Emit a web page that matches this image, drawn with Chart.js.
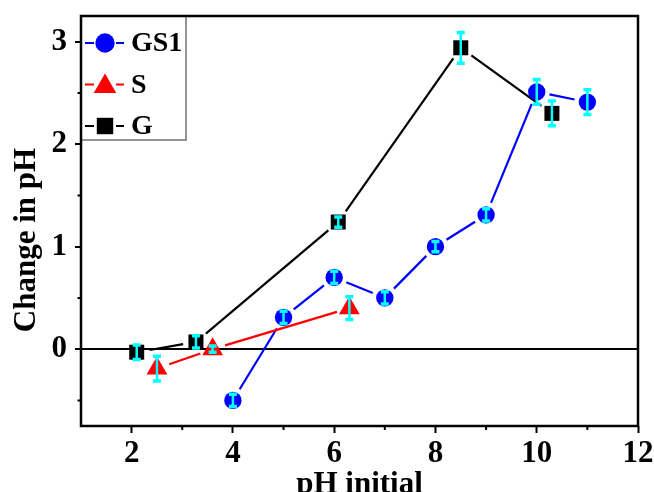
<!DOCTYPE html>
<html>
<head>
<meta charset="utf-8">
<script src="https://cdn.jsdelivr.net/npm/chart.js@4/dist/chart.umd.min.js"></script>
<style>
  html, body { margin: 0; padding: 0; background: #fff; }
</style>
</head>
<body>
<canvas id="chart" width="654" height="492"></canvas>
<script>
// pH change vs initial pH for the three samples
const gs1X   = [4, 5, 6, 7, 8, 9, 10, 11];
const gs1Y   = [-0.5, 0.31, 0.7, 0.5, 1.0, 1.31, 2.51, 2.41];
const gs1Err = [0.06, 0.06, 0.06, 0.06, 0.05, 0.06, 0.12, 0.12];

const sX   = [2.5, 3.6, 6.3];
const sY   = [-0.19, 0.0, 0.4];
const sErr = [0.12, 0.03, 0.11];

const gX   = [2.1, 3.27, 6.08, 8.5, 10.3];
const gY   = [-0.03, 0.07, 1.24, 2.94, 2.3];
const gErr = [0.07, 0.06, 0.05, 0.15, 0.12];

const xTicks = [2, 4, 6, 8, 10, 12];
const xMinor = [3, 5, 7, 9, 11];
const yTicks = [0, 1, 2, 3];
const yMinor = [-0.5, 0.5, 1.5, 2.5];

const FONT = '"Liberation Serif", "Times New Roman", serif';
const GAP = 13;

const pts = (xs, ys) => xs.map((x, i) => ({ x, y: ys[i] }));

// connecting lines, trimmed so they stop short of each marker
const gapLines = {
  id: 'gapLines',
  beforeDatasetsDraw(chart) {
    const ctx = chart.ctx;
    chart.data.datasets.forEach((ds, di) => {
      const els = chart.getDatasetMeta(di).data;
      ctx.save();
      ctx.strokeStyle = ds.borderColor;
      ctx.lineWidth = 2.2;
      for (let i = 0; i < els.length - 1; i++) {
        const a = els[i], b = els[i + 1];
        const dx = b.x - a.x, dy = b.y - a.y;
        const len = Math.hypot(dx, dy);
        if (len <= 2 * GAP) continue;
        const ux = dx / len, uy = dy / len;
        ctx.beginPath();
        ctx.moveTo(a.x + ux * GAP, a.y + uy * GAP);
        ctx.lineTo(b.x - ux * GAP, b.y - uy * GAP);
        ctx.stroke();
      }
      ctx.restore();
    });
  }
};

// cyan error bars on top of the markers
const errorBars = {
  id: 'errorBars',
  afterDatasetsDraw(chart) {
    const ctx = chart.ctx;
    const ys = chart.scales.y;
    chart.data.datasets.forEach((ds, di) => {
      const els = chart.getDatasetMeta(di).data;
      ctx.save();
      ctx.strokeStyle = '#00ffff';
      els.forEach((el, i) => {
        const v = ds.data[i].y, e = ds.errors[i];
        const top = ys.getPixelForValue(v + e);
        const bot = ys.getPixelForValue(v - e);
        ctx.lineWidth = 2.5;
        ctx.beginPath();
        ctx.moveTo(el.x, top);
        ctx.lineTo(el.x, bot);
        ctx.stroke();
        ctx.lineWidth = 3.5;
        ctx.beginPath();
        ctx.moveTo(el.x - 4, top); ctx.lineTo(el.x + 4, top);
        ctx.moveTo(el.x - 4, bot); ctx.lineTo(el.x + 4, bot);
        ctx.stroke();
      });
      ctx.restore();
    });
  }
};

function drawMarker(ctx, style, x, y, r, color) {
  ctx.fillStyle = color;
  ctx.beginPath();
  if (style === 'circle') {
    ctx.arc(x, y, r, 0, Math.PI * 2);
  } else if (style === 'rect') {
    const s = r * Math.SQRT1_2;
    ctx.rect(x - s, y - s, 2 * s, 2 * s);
  } else if (style === 'triangle') {
    ctx.moveTo(x, y - r);
    ctx.lineTo(x + r * Math.sin(2 * Math.PI / 3), y - r * Math.cos(2 * Math.PI / 3));
    ctx.lineTo(x + r * Math.sin(4 * Math.PI / 3), y - r * Math.cos(4 * Math.PI / 3));
    ctx.closePath();
  }
  ctx.fill();
}

// frame, minor ticks, axis titles and the boxed legend
const decorations = {
  id: 'decorations',
  afterDraw(chart) {
    const ctx = chart.ctx;
    const { left, right, top, bottom } = chart.chartArea;
    const xs = chart.scales.x, ys = chart.scales.y;
    ctx.save();

    // legend box
    const lx = left, ly = top, lw = 105, lh = 124;
    ctx.fillStyle = '#fff';
    ctx.fillRect(lx, ly, lw, lh);
    ctx.strokeStyle = '#707070';
    ctx.lineWidth = 1.5;
    ctx.strokeRect(lx, ly, lw, lh);
    chart.data.datasets.forEach((ds, i) => {
      const cy = ly + 27 + i * 41.5;
      const cx = lx + 24;
      ctx.strokeStyle = ds.borderColor;
      ctx.lineWidth = 2.2;
      ctx.beginPath();
      ctx.moveTo(lx + 4, cy); ctx.lineTo(lx + 13, cy);
      ctx.moveTo(lx + 35, cy); ctx.lineTo(lx + 43, cy);
      ctx.stroke();
      drawMarker(ctx, ds.pointStyle, cx, cy + (ds.pointStyle === 'triangle' ? 2 : 0),
        ds.pointRadius + 1, ds.backgroundColor);
      ctx.fillStyle = '#000';
      ctx.font = 'bold 28px ' + FONT;
      ctx.textAlign = 'left';
      ctx.textBaseline = 'middle';
      ctx.fillText(ds.label, lx + 50, cy + 1);
    });

    // frame
    ctx.strokeStyle = '#000';
    ctx.lineWidth = 2.5;
    ctx.strokeRect(left, top, right - left, bottom - top);

    // minor ticks
    ctx.lineWidth = 2;
    ctx.beginPath();
    xMinor.forEach(v => {
      const px = xs.getPixelForValue(v);
      ctx.moveTo(px, bottom); ctx.lineTo(px, bottom + 4);
    });
    yMinor.forEach(v => {
      const py = ys.getPixelForValue(v);
      ctx.moveTo(left, py); ctx.lineTo(left - 3.5, py);
    });
    ctx.stroke();

    // axis titles
    ctx.fillStyle = '#000';
    ctx.font = 'bold 31px ' + FONT;
    ctx.textAlign = 'center';
    ctx.textBaseline = 'alphabetic';
    ctx.fillText('pH initial', (left + right) / 2, 493);
    ctx.translate(35, 240);
    ctx.rotate(-Math.PI / 2);
    ctx.fillText('Change in pH', 0, 0);
    ctx.restore();
  }
};

const tickFont = { family: FONT, size: 31, weight: 'bold' };

new Chart(document.getElementById('chart'), {
  type: 'scatter',
  data: {
    datasets: [
      { label: 'GS1', data: pts(gs1X, gs1Y), errors: gs1Err, pointStyle: 'circle',
        pointRadius: 8.7, backgroundColor: '#0000ff', borderColor: '#0000ff', pointBorderWidth: 0 },
      { label: 'S', data: pts(sX, sY), errors: sErr, pointStyle: 'triangle',
        pointRadius: 12, backgroundColor: '#ff0000', borderColor: '#ff0000', pointBorderWidth: 0 },
      { label: 'G', data: pts(gX, gY), errors: gErr, pointStyle: 'rect',
        pointRadius: 10.6, backgroundColor: '#000000', borderColor: '#000000', pointBorderWidth: 0 }
    ]
  },
  options: {
    responsive: false,
    animation: false,
    layout: { padding: { top: 16, right: 16, left: 0, bottom: 0 } },
    plugins: { legend: { display: false }, tooltip: { enabled: false } },
    scales: {
      x: {
        type: 'linear', min: 1, max: 12,
        afterBuildTicks: s => { s.ticks = xTicks.map(v => ({ value: v })); },
        afterFit: s => { s.height = 66; s.paddingLeft = 0; s.paddingRight = 0; },
        border: { display: false },
        grid: { drawOnChartArea: false, tickLength: 7, tickWidth: 2, tickColor: '#000' },
        ticks: { font: tickFont, color: '#000', padding: 2, maxRotation: 0, autoSkip: false }
      },
      y: {
        type: 'linear', min: -0.75, max: 3.25,
        afterBuildTicks: s => { s.ticks = yTicks.map(v => ({ value: v })); },
        afterFit: s => { s.width = 81; s.paddingTop = 0; s.paddingBottom = 0; },
        border: { display: false },
        grid: {
          color: c => (c.tick && c.tick.value === 0) ? '#000' : 'rgba(0,0,0,0)',
          lineWidth: 2, tickLength: 6, tickWidth: 2, tickColor: '#000'
        },
        ticks: { font: tickFont, color: '#000', padding: 8 }
      }
    }
  },
  plugins: [gapLines, errorBars, decorations]
});
</script>
</body>
</html>
